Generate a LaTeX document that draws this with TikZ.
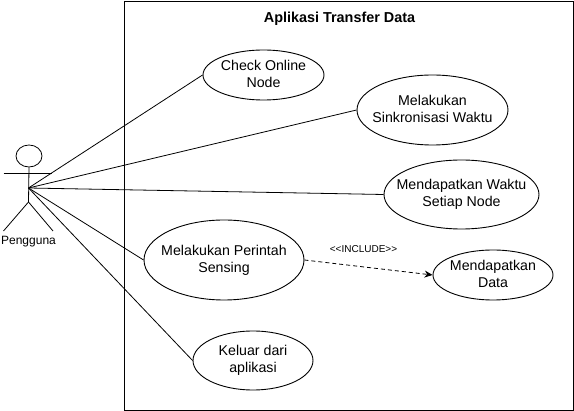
\documentclass[tikz,border=0pt]{standalone}
\usepackage{fontspec}
\setmainfont{Liberation Sans}
\usetikzlibrary{shapes.geometric,arrows.meta}
\begin{document}
\begin{tikzpicture}[x=1pt,y=-1pt,
 uc/.style={draw,ellipse,line width=.9pt,fill=white,inner xsep=-30pt,inner ysep=-8pt,align=center,font=\fontsize{14.2}{17}\selectfont},
 raised/.style={execute at end node={\rule[-3pt]{0pt}{0pt}}},
 lowered/.style={execute at begin node={\rule{0pt}{14pt}}},
 line/.style={line width=.8pt}]
\useasboundingbox (0,0) rectangle (574,411);
\node[draw,line width=.9pt,minimum width=449pt,minimum height=409.5pt,inner sep=0pt,anchor=north west] (sys) at (124,0.8) {};
\node[font=\bfseries\fontsize{14.4}{16}\selectfont] (title) at (339.5,19) {Aplikasi Transfer Data};
\node[draw,ellipse,line width=.8pt,minimum width=26pt,minimum height=22pt,inner sep=0pt] (head) at (29,156) {};
\coordinate (hip) at (28.5,202);
\coordinate (feetL) at (3.5,231);
\coordinate (feetR) at (53,231);
\coordinate (armL) at (3.5,173.5);
\coordinate (armR) at (52,173.5);
\draw[line] (head.south) -- (hip);
\draw[line] (armL) -- (armR);
\draw[line] (hip) -- (feetL);
\draw[line] (hip) -- (feetR);
\node[font=\fontsize{12}{14}\selectfont] (actor) at (28.5,242) {Pengguna};
\node[uc,raised,minimum width=121pt,minimum height=50pt] (a) at (263.5,75) {Check Online\\Node};
\node[uc,raised,minimum width=151pt,minimum height=70pt] (b) at (432.5,110) {Melakukan\\Sinkronisasi Waktu};
\node[uc,raised,minimum width=155pt,minimum height=69pt] (c) at (461.5,194.5) {Mendapatkan Waktu\\Setiap Node};
\node[uc,raised,minimum width=160pt,minimum height=80pt] (d) at (224,260) {Melakukan Perintah\\Sensing};
\node[uc,raised,minimum width=120pt,minimum height=50pt] (e) at (493,275) {Mendapatkan\\Data};
\node[uc,lowered,minimum width=120pt,minimum height=59pt] (f) at (253,360.5) {Keluar dari\\aplikasi};
\coordinate (o) at (28.5,188);
\draw[line] (o) -- (a.west);
\draw[line] (o) -- (b.west);
\draw[line] (o) -- (c.west);
\draw[line] (o) -- (d.west);
\draw[line] (o) -- (f.west);
\draw[line width=.8pt,dash pattern=on 4pt off 3pt,-{Stealth[length=8pt,width=7pt]}] (d.east) -- (e.west);
\node[font=\fontsize{10}{11}\selectfont] (inc) at (363.5,249) {{<}{<}INCLUDE{>}{>}};
\end{tikzpicture}
\end{document}
